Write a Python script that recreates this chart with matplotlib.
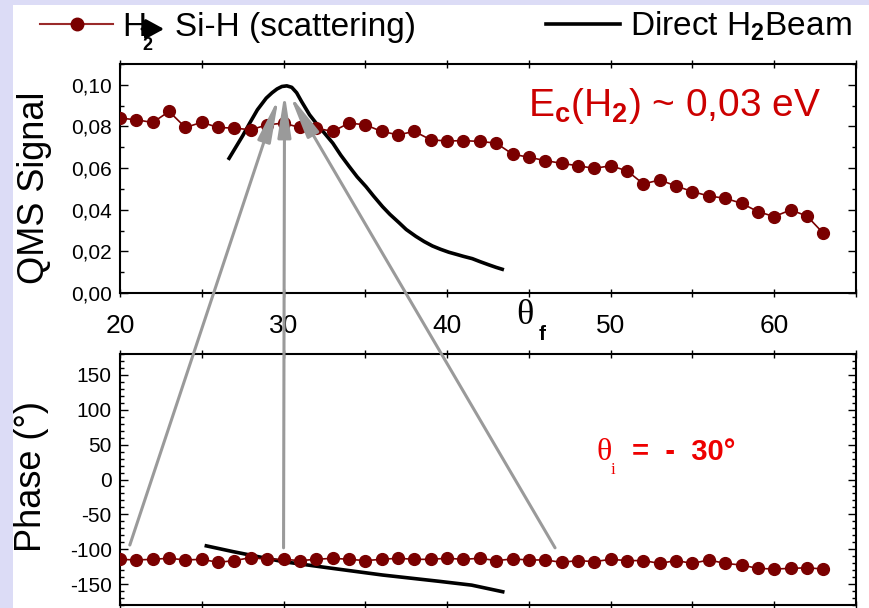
import matplotlib
matplotlib.use('Agg')
import matplotlib.pyplot as plt
from matplotlib.lines import Line2D
from matplotlib.patches import Rectangle, ConnectionPatch, FancyArrowPatch
from matplotlib.ticker import MultipleLocator, FuncFormatter
import numpy as np

plt.rcParams['font.family'] = ['Liberation Sans', 'DejaVu Sans']
plt.rcParams['mathtext.fontset'] = 'custom'
plt.rcParams['mathtext.rm'] = 'Liberation Sans'
plt.rcParams['mathtext.bf'] = 'Liberation Sans:bold'
plt.rcParams['mathtext.it'] = 'Liberation Sans:italic'
plt.rcParams['axes.unicode_minus'] = False

# scattering data (theta_f = 20..63)
theta_f = np.arange(20, 64)
qms_scatter = [0.0840, 0.0832, 0.0819, 0.0872, 0.0795, 0.0820, 0.0795, 0.0792, 0.0784, 0.0808,
               0.0816, 0.0795, 0.0792, 0.0776, 0.0816, 0.0808, 0.0776, 0.0760, 0.0776, 0.0736,
               0.0730, 0.0732, 0.0728, 0.0720, 0.0667, 0.0652, 0.0636, 0.0623, 0.0611, 0.0599,
               0.0611, 0.0587, 0.0524, 0.0543, 0.0514, 0.0487, 0.0466, 0.0455, 0.0431, 0.0391,
               0.0367, 0.0399, 0.0370, 0.0287]
phase_scatter = [-114.5, -115.4, -114.5, -113.0, -115.4, -114.5, -118.8, -116.3, -112.0, -114.5,
                 -114.5, -116.3, -114.5, -113.0, -114.5, -116.3, -114.5, -113.0, -114.5, -114.5,
                 -113.0, -114.5, -113.0, -116.3, -114.0, -115.4, -115.4, -118.8, -116.3, -117.8,
                 -114.5, -116.3, -116.3, -120.3, -116.3, -120.3, -115.4, -120.3, -122.7, -127.5,
                 -128.4, -127.5, -126.6, -128.4]

# direct beam
beam_x = [26.67, 27.0, 27.5, 27.93, 28.4, 28.94, 29.3, 29.6, 29.9, 30.2, 30.5, 30.8, 31.1,
          31.59, 31.99, 32.5, 33.01, 33.5, 34.02, 34.5, 35.04, 35.5, 36.05, 36.5, 37.07,
          37.5, 38.09, 38.6, 39.1, 39.6, 40.1, 40.6, 41.0, 41.54, 42.0, 42.56, 43.0, 43.37]
beam_qms = [0.0647, 0.0690, 0.0755, 0.0816, 0.0880, 0.0936, 0.0962, 0.0980, 0.0992, 0.0995,
            0.0988, 0.0962, 0.0920, 0.0856, 0.0816, 0.0768, 0.0720, 0.0662, 0.0607, 0.0558,
            0.0511, 0.0466, 0.0415, 0.0378, 0.0337, 0.0305, 0.0272, 0.0247, 0.0226, 0.0210,
            0.0196, 0.0185, 0.0176, 0.0165, 0.0151, 0.0135, 0.0123, 0.0114]
beam_phase_x = [25.28, 26.9, 29.96, 33.0, 36.05, 39.5, 41.5, 43.4]
beam_phase = [-95.2, -103.4, -117.8, -127.5, -137.0, -146.0, -151.5, -161.0]

# grey arrows: (bottom start) -> (top tip)
arrow_starts = [(20.6, -94), (30.0, -98), (46.6, -98)]
arrow_tips = [(29.7, 0.0938), (30.06, 0.0962), (30.37, 0.0952)]

dark_red = '#7a0000'

fig = plt.figure(figsize=(8.69, 6.08), dpi=100, facecolor='#dcdcf6')
fig.patches.append(Rectangle((13 / 869, 0), 1, 1 - 5 / 608, transform=fig.transFigure,
                             facecolor='white', edgecolor='none', zorder=-1))

ax1 = fig.add_axes([120 / 869, 1 - 293 / 608, 736 / 869, 229 / 608])
ax2 = fig.add_axes([120 / 869, 1 - 605 / 608, 736 / 869, 251 / 608])

for ax in (ax1, ax2):
    ax.set_facecolor('none')
    ax.plot(theta_f, qms_scatter if ax is ax1 else phase_scatter, '-o', color=dark_red,
            lw=1.2, ms=8.5, zorder=3)
    ax.set_xlim(20, 65)
    ax.xaxis.set_major_locator(MultipleLocator(10))
    ax.xaxis.set_minor_locator(MultipleLocator(5))
    ax.tick_params(axis='x', which='both', direction='inout', length=6, width=1,
                   top=True, bottom=True)
    ax.tick_params(axis='y', which='major', direction='in', length=6, width=1,
                   left=True, right=True, labelsize=15, pad=6)
    ax.tick_params(axis='y', which='minor', direction='in', length=3, width=1,
                   left=True, right=True)
    for s in ax.spines.values():
        s.set_linewidth(1.5)

ax1.plot(beam_x, beam_qms, color='black', lw=2.6, zorder=2)
ax2.plot(beam_phase_x, beam_phase, color='black', lw=2.6, zorder=2)

ax1.set_ylim(0, 0.11)
ax1.yaxis.set_major_locator(MultipleLocator(0.02))
ax1.yaxis.set_minor_locator(MultipleLocator(0.01))
ax1.yaxis.set_major_formatter(FuncFormatter(lambda v, p: f'{v:.2f}'.replace('.', ',')))
ax1.tick_params(axis='x', labelsize=19, pad=12)
ax1.set_ylabel('QMS Signal', fontsize=26)
ax1.yaxis.set_label_coords(-0.093, 0.46)

ax2.set_ylim(-180, 180)
ax2.yaxis.set_major_locator(MultipleLocator(50))
ax2.yaxis.set_minor_locator(MultipleLocator(10))
ax2.tick_params(axis='x', labelbottom=False)
ax2.set_ylabel('Phase (°)', fontsize=26)
ax2.yaxis.set_label_coords(-0.097, 0.51)

# theta_f axis label
fig.text(516 / 869, 1 - 316 / 608, 'θ', family='Liberation Serif', fontsize=26, va='center')
fig.text(539 / 869, 1 - 335 / 608, 'f', fontsize=15, fontweight='bold', va='center')

# annotations
fig.text(528 / 869, 1 - 106 / 608, 'E$_\\mathbf{c}$(H$_\\mathbf{2}$) ~ 0,03 eV',
         color='#cc0000', fontsize=28, va='center')
fig.text(596 / 869, 1 - 452 / 608, 'θ', family='Liberation Serif', fontsize=23,
         color='#ee0000', va='center')
fig.text(611 / 869, 1 - 470 / 608, 'i', family='Liberation Serif', fontsize=12,
         color='#ee0000', va='center')
fig.text(632 / 869, 1 - 452 / 608, '=  -  30°', fontsize=21, fontweight='bold',
         color='#ee0000', va='center')

# grey arrows from the phase panel up to the peak
for start, tip in zip(arrow_starts, arrow_tips):
    con = ConnectionPatch(xyA=start, coordsA=ax2.transData, xyB=tip, coordsB=ax1.transData,
                          arrowstyle='-|>,head_length=1.3,head_width=0.2', mutation_scale=20,
                          color='#9a9a9a', lw=2.2, shrinkA=0, shrinkB=0, zorder=5)
    fig.add_artist(con)

# legend
handles = [Line2D([], [], color='#9a2a2a', lw=1.5, marker='o', ms=9,
                  markerfacecolor=dark_red, markeredgecolor=dark_red),
           Line2D([], [], color='black', lw=2.6)]
labels = ['H   Si-H (scattering)', 'Direct H$_\\mathbf{2}$Beam']
fig.legend(handles, labels, loc='upper left', bbox_to_anchor=(40 / 869, 1 - 10 / 608),
           ncol=2, frameon=False, fontsize=24, handlelength=2.2, handletextpad=0.3,
           columnspacing=3.9, borderpad=0, borderaxespad=0)
# H2 subscript sits below the heavy arrow in the first entry
fig.text(142 / 869, 1 - 46 / 608, '2', fontsize=13, fontweight='bold', va='center')
fig.add_artist(FancyArrowPatch((142 / 869, 1 - 29 / 608), (164 / 869, 1 - 29 / 608),
                               transform=fig.transFigure, arrowstyle='-|>,head_length=0.55,head_width=0.3',
                               mutation_scale=20, color='black', lw=2.2, shrinkA=0, shrinkB=0))

fig.savefig('out.png', dpi=100, facecolor=fig.get_facecolor())
